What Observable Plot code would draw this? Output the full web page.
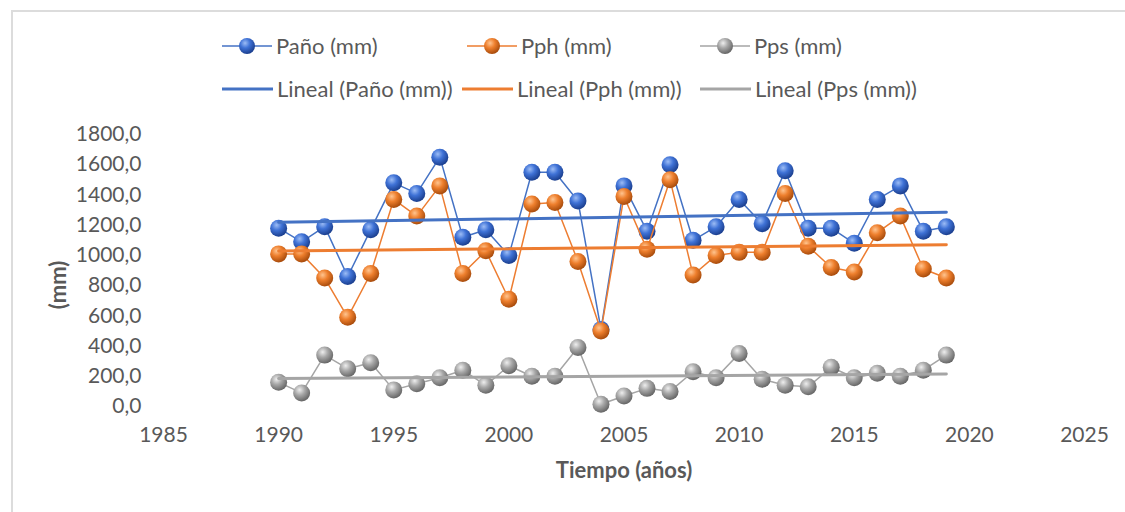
<!DOCTYPE html>
<html>
<head>
<meta charset="utf-8">
<script src="https://cdn.jsdelivr.net/npm/d3@7"></script>
<script src="https://cdn.jsdelivr.net/npm/@observablehq/plot@0.6"></script>
<style>
  html, body { margin: 0; padding: 0; background: #fff; }
  #wrap { position: relative; width: 1125px; height: 512px; overflow: hidden; font-family: Lato, sans-serif; color: #595959; }
  #frame { position: absolute; left: 11px; top: 10px; width: 1200px; height: 600px; border-left: 2px solid #dcdcdc; border-top: 2px solid #dcdcdc; }
  .leg { position: absolute; display: flex; align-items: center; font-size: 22px; color: #595959; white-space: nowrap; }
  .leg svg { display: block; margin-right: 4px; }
  #chart { position: absolute; left: 0; top: 110px; }
  #ytitle { position: absolute; left: 58px; top: 285px; transform: translate(-50%, -50%) rotate(-90deg); font-weight: bold; font-size: 22px; color: #595959; white-space: nowrap; line-height: 1; }
</style>
</head>
<body>
<svg width="0" height="0" style="position:absolute">
  <defs>
    <radialGradient id="gBlue" cx="0.38" cy="0.32" r="0.68">
      <stop offset="0" stop-color="#9cbcf5"/>
      <stop offset="0.45" stop-color="#3f72d6"/>
      <stop offset="1" stop-color="#1b3f8f"/>
    </radialGradient>
    <radialGradient id="gOrange" cx="0.38" cy="0.32" r="0.68">
      <stop offset="0" stop-color="#ffc48f"/>
      <stop offset="0.45" stop-color="#ee7f2d"/>
      <stop offset="1" stop-color="#a94c0c"/>
    </radialGradient>
    <radialGradient id="gGray" cx="0.38" cy="0.32" r="0.68">
      <stop offset="0" stop-color="#eeeeee"/>
      <stop offset="0.45" stop-color="#a8a8a8"/>
      <stop offset="1" stop-color="#676767"/>
    </radialGradient>
  </defs>
</svg>
<div id="wrap">
  <div id="frame"></div>
  <div id="legend"></div>
  <div id="chart"></div>
  <div id="ytitle"></div>
</div>
<script>
// ---- Data ----
const years = [1990,1991,1992,1993,1994,1995,1996,1997,1998,1999,
               2000,2001,2002,2003,2004,2005,2006,2007,2008,2009,
               2010,2011,2012,2013,2014,2015,2016,2017,2018,2019];
const pano = [1180,1090,1190,860,1170,1480,1410,1650,1120,1170,
              1000,1550,1550,1360,510,1460,1160,1600,1100,1190,
              1370,1210,1560,1180,1180,1080,1370,1460,1160,1190];
const pph  = [1010,1010,850,590,880,1370,1260,1460,880,1030,
              710,1340,1350,960,500,1390,1040,1500,870,1000,
              1020,1020,1410,1060,920,890,1150,1260,910,850];
const pps  = [160,90,340,250,290,110,150,190,240,140,
              270,200,200,390,15,70,120,100,230,190,
              350,180,140,130,260,190,220,200,240,340];
const xTicks = [1985,1990,1995,2000,2005,2010,2015,2020,2025];
const yTicks = [0,200,400,600,800,1000,1200,1400,1600,1800];
const seriesNames = ["Paño (mm)", "Pph (mm)", "Pps (mm)"];
const trendNames = ["Lineal (Paño (mm))", "Lineal (Pph (mm))", "Lineal (Pps (mm))"];
const xTitle = "Tiempo (años)";
const yTitle = "(mm)";

const colors = ["#4472c4", "#ed7d31", "#a5a5a5"];
const grads = ["url(#gBlue)", "url(#gOrange)", "url(#gGray)"];
const keys = ["pano", "pph", "pps"];

const data = years.map((y, i) => ({year: y, pano: pano[i], pph: pph[i], pps: pps[i]}));

// ---- Legend ----
const legend = document.getElementById("legend");
const legPos1 = [222, 467, 700];
const legPos2 = [222, 462, 700];
seriesNames.forEach((name, i) => {
  const d = document.createElement("div");
  d.className = "leg";
  d.style.left = legPos1[i] + "px";
  d.style.top = "32px";
  d.innerHTML = `<svg width="50" height="26"><line x1="0" y1="13" x2="50" y2="13" stroke="${colors[i]}" stroke-width="1.5"/><circle cx="25" cy="13" r="8" fill="${grads[i]}"/></svg><span>${name}</span>`;
  legend.appendChild(d);
});
trendNames.forEach((name, i) => {
  const d = document.createElement("div");
  d.className = "leg";
  d.style.left = legPos2[i] + "px";
  d.style.top = "75px";
  d.innerHTML = `<svg width="51" height="26"><line x1="0" y1="13" x2="51" y2="13" stroke="${colors[i]}" stroke-width="3"/></svg><span>${name}</span>`;
  legend.appendChild(d);
});
document.getElementById("ytitle").textContent = yTitle;

// ---- Chart ----
const fmtY = d => d.toFixed(1).replace(".", ",");

const marks = [];
keys.forEach((k, i) => {
  marks.push(Plot.line(data, {x: "year", y: k, stroke: colors[i], strokeWidth: 1.5}));
  marks.push(Plot.dot(data, {x: "year", y: k, r: 8.5, fill: grads[i], stroke: "none"}));
});
keys.forEach((k, i) => {
  marks.push(Plot.linearRegressionY(data, {x: "year", y: k, stroke: colors[i], strokeWidth: 3, ci: 0}));
});

const chart = Plot.plot({
  width: 1125,
  height: 392,
  marginLeft: 163,
  marginRight: 41,
  marginTop: 24,
  marginBottom: 96,
  style: {fontFamily: "Lato, sans-serif", fontSize: "21px", color: "#595959", background: "transparent", overflow: "visible"},
  x: {domain: [1985, 2025], ticks: xTicks, tickFormat: d => String(d), tickSize: 0, tickPadding: 21, label: null},
  y: {domain: [0, 1800], ticks: yTicks, tickFormat: fmtY, tickSize: 0, tickPadding: 22, label: null},
  marks: [
    ...marks,
    Plot.text([xTitle], {frameAnchor: "bottom", dy: 64, text: d => d, fontWeight: "bold", fontSize: 22, fill: "#595959", lineAnchor: "middle"})
  ]
});
document.getElementById("chart").appendChild(chart);
</script>
</body>
</html>
